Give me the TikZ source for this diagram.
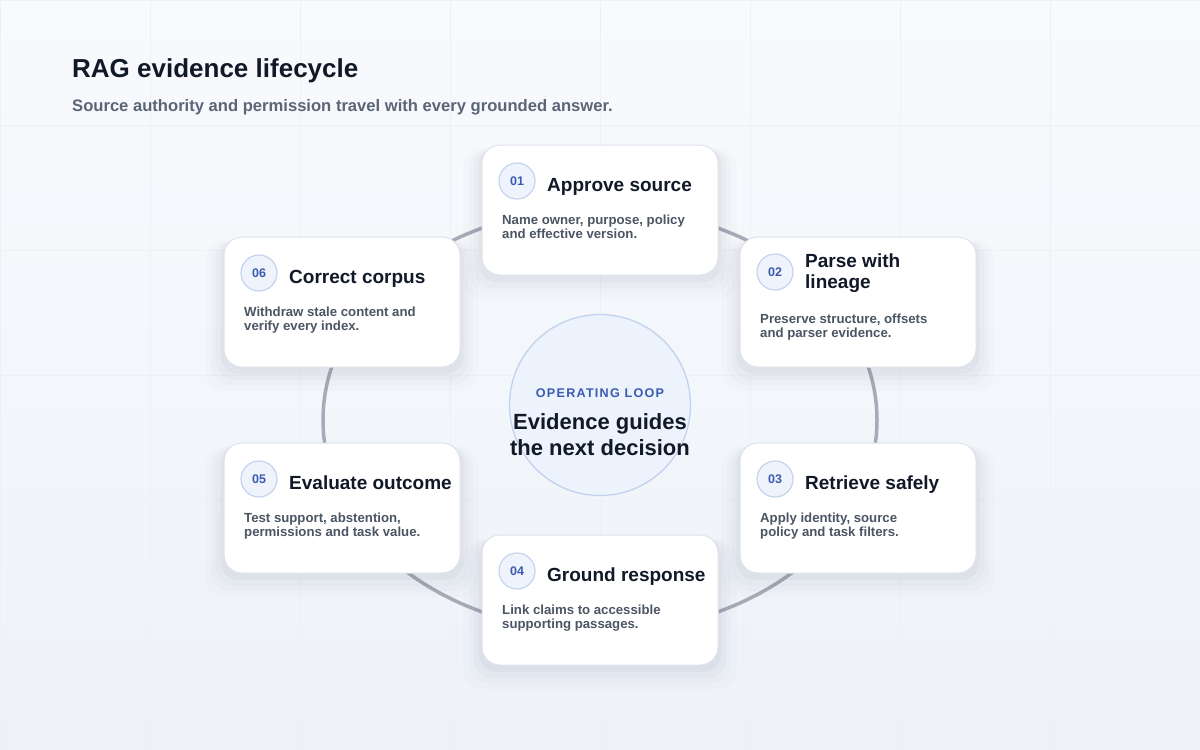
\documentclass[tikz,border=0pt]{standalone}
\usepackage{fontspec}
\setmainfont{Liberation Sans}
\usetikzlibrary{shadows}

\definecolor{ink}{HTML}{111827}
\definecolor{muted}{HTML}{4B5563}
\definecolor{subink}{HTML}{5B6576}
\definecolor{accent}{HTML}{3A5BB0}
\definecolor{ringgray}{HTML}{A6ABB7}
\definecolor{cardline}{HTML}{DEE3EB}
\definecolor{badgefill}{HTML}{EEF3FC}
\definecolor{badgeline}{HTML}{C5D3EC}
\definecolor{hubfill}{HTML}{EDF3FD}
\definecolor{hubline}{HTML}{C2D2EE}
\definecolor{gridline}{HTML}{EDF0F6}
\definecolor{bgtop}{HTML}{F8FAFD}
\definecolor{bgbot}{HTML}{EEF2F8}
\definecolor{shadowink}{HTML}{1E2A4A}

\newcommand{\fs}[2]{\fontsize{#1}{#2}\selectfont\bfseries}

\tikzset{
  card/.style={draw=cardline, line width=1pt, fill=white, rounded corners=18pt,
    minimum width=236pt, minimum height=130pt,
    general shadow={shadow scale=1.16, shadow yshift=-12pt, fill=shadowink, fill opacity=0.012},
    general shadow={shadow scale=1.11, shadow yshift=-10pt, fill=shadowink, fill opacity=0.016},
    general shadow={shadow scale=1.07, shadow yshift=-8pt, fill=shadowink, fill opacity=0.022},
    general shadow={shadow scale=1.03, shadow yshift=-5pt, fill=shadowink, fill opacity=0.03}},
  badge/.style={circle, draw=badgeline, line width=1.2pt, fill=badgefill,
    minimum size=36pt, inner sep=0pt, text=accent, font=\fs{12.5}{14}},
  head/.style={anchor=base west, inner sep=0pt, text=ink, align=left, font=\fs{19}{21}},
  body/.style={anchor=base west, inner sep=0pt, text=muted, align=left, font=\fs{13.2}{14}},
}

\begin{document}
\begin{tikzpicture}[x=1pt,y=-1pt]
  \useasboundingbox (0,0) rectangle (1200,750);
  \shade[top color=bgtop, bottom color=bgbot] (0,0) rectangle (1200,750);
  \draw[gridline, line width=0.8pt, xstep=150pt, ystep=125pt] (0,0) grid (1200,750);

  % heading
  \node[anchor=base west, inner sep=0pt, text=ink, font=\fs{26}{28}] (title) at (72,77)
    {RAG evidence lifecycle};
  \node[anchor=base west, inner sep=0pt, text=subink, font=\fs{16.6}{18}] (subtitle) at (72,111)
    {Source authority and permission travel with every grounded answer.};

  % loop and hub
  \draw[ringgray, line width=3.5pt] (600,420) ellipse [x radius=277, y radius=212];
  \node[circle, draw=hubline, fill=hubfill, line width=1.3pt, minimum size=181pt] (hub) at (600,405) {};
  \node[anchor=base, inner sep=0pt, text=accent, font={\fs{12.6}{14}\addfontfeature{LetterSpace=10}}] (loop) at (600,397)
    {OPERATING LOOP};
  \node[anchor=base, inner sep=0pt, text=ink, font=\fs{22}{26}] (guide1) at (600,429) {Evidence guides};
  \node[anchor=base, inner sep=0pt, text=ink, font=\fs{22}{26}] (guide2) at (600,455) {the next decision};

  % 01
  \node[card] (c1) at (600,210) {};
  \node[badge] (n1) at (517,181) {01};
  \node[head] (t1) at (547,191) {Approve source};
  \node[body] (d1) at (502,238) {Name owner, purpose, policy\\and effective version.};
  % 02
  \node[card] (c2) at (858,302) {};
  \node[badge] (n2) at (775,272) {02};
  \node[head] (t2) at (805,288) {Parse with\\lineage};
  \node[body] (d2) at (760,337) {Preserve structure, offsets\\and parser evidence.};
  % 03
  \node[card] (c3) at (858,508) {};
  \node[badge] (n3) at (775,479) {03};
  \node[head] (t3) at (805,489) {Retrieve safely};
  \node[body] (d3) at (760,536) {Apply identity, source\\policy and task filters.};
  % 04
  \node[card] (c4) at (600,600) {};
  \node[badge] (n4) at (517,571) {04};
  \node[head] (t4) at (547,581) {Ground response};
  \node[body] (d4) at (502,628) {Link claims to accessible\\supporting passages.};
  % 05
  \node[card] (c5) at (342,508) {};
  \node[badge] (n5) at (259,479) {05};
  \node[head] (t5) at (289,489) {Evaluate outcome};
  \node[body] (d5) at (244,536) {Test support, abstention,\\permissions and task value.};
  % 06
  \node[card] (c6) at (342,302) {};
  \node[badge] (n6) at (259,273) {06};
  \node[head] (t6) at (289,283) {Correct corpus};
  \node[body] (d6) at (244,330) {Withdraw stale content and\\verify every index.};
\end{tikzpicture}
\end{document}
